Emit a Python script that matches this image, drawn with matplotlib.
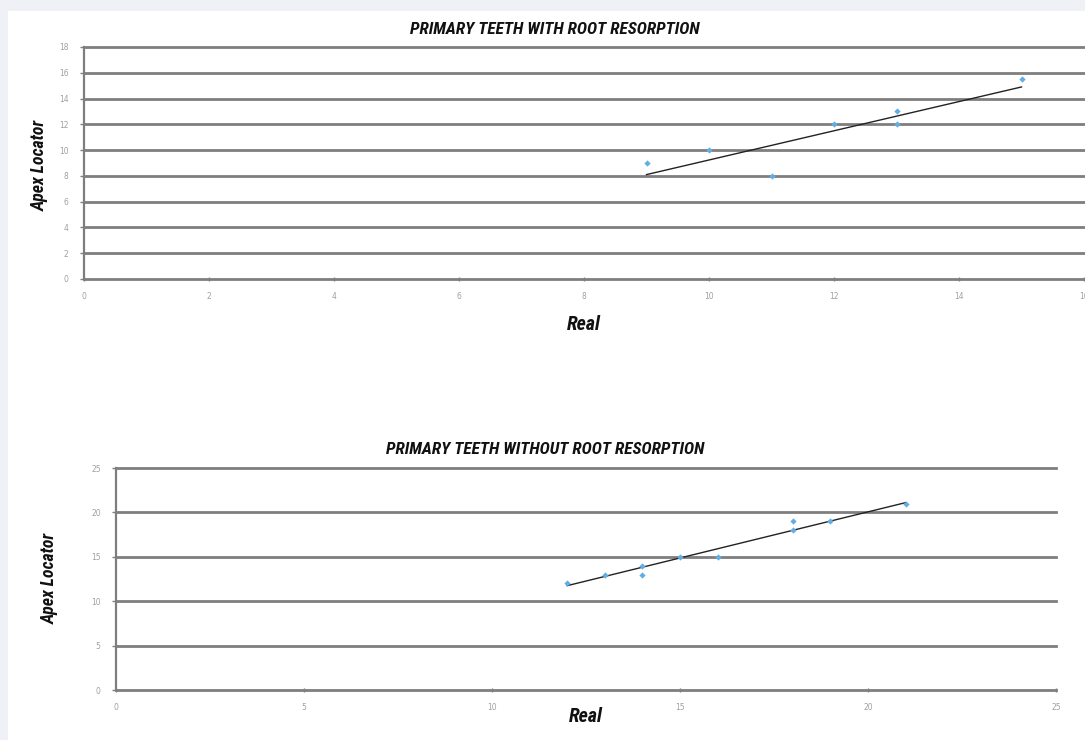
import matplotlib
matplotlib.use('Agg')
from matplotlib import pyplot as plt
from matplotlib import font_manager
from matplotlib.patches import Rectangle

# values
top_real = [9, 10, 11, 12, 13, 13, 15]
top_apex = [9, 10, 8, 12, 13, 12, 15.5]
top_trend_x = [9, 15]
top_trend_y = [8.1, 14.9]
top_yticks = [0, 2, 4, 6, 8, 10, 12, 14, 16, 18]
top_xticks = [0, 2, 4, 6, 8, 10, 12, 14, 16]

bot_real = [12, 13, 14, 14, 15, 16, 18, 18, 19, 21]
bot_apex = [12, 13, 14, 13, 15, 15, 18, 19, 19, 21]
bot_trend_x = [12, 21]
bot_trend_y = [11.75, 21.1]
bot_yticks = [0, 5, 10, 15, 20, 25]
bot_xticks = [0, 5, 10, 15, 20, 25]

W, H = 1085, 740

# pick a narrow font if one is there
installed = set(f.name for f in font_manager.fontManager.ttflist)
title_font = 'DejaVu Sans'
for name in ['Liberation Sans Narrow', 'DejaVu Sans Condensed', 'Roboto Condensed',
             'Open Sans Condensed', 'Roboto', 'Lato']:
    if name in installed:
        title_font = name
        break

fig = plt.figure(figsize=(W / 100, H / 100), dpi=100)
fig.patch.set_facecolor('#eff1f7')
fig.patches.append(Rectangle((8 / W, 0), 1, 1 - 11 / H, transform=fig.transFigure,
                             facecolor='white', edgecolor='none', zorder=-10))


def make_axes(rect, xs, ys, tx, ty, xticks, yticks):
    ax = fig.add_axes(rect)
    ax.set_facecolor('white')
    ax.set_xlim(xticks[0], xticks[-1])
    ax.set_ylim(yticks[0], yticks[-1])
    ax.set_xticks(xticks)
    ax.set_yticks(yticks)
    for y in yticks:
        ax.axhline(y, color='#7e7e7e', lw=2, zorder=1, clip_on=False)
    for s in ['top', 'right', 'bottom']:
        ax.spines[s].set_visible(False)
    ax.spines['left'].set_color('#7e7e7e')
    ax.spines['left'].set_linewidth(1.6)
    ax.tick_params(axis='both', colors='#7e7e7e', labelcolor='#a0a0a0',
                   labelsize=5.5, length=3, width=1)
    ax.tick_params(axis='x', direction='inout', pad=8)
    ax.tick_params(axis='y', direction='out', pad=8)
    ax.plot(tx, ty, color='#222222', lw=1, zorder=3)
    ax.plot(xs, ys, linestyle='none', marker='D', ms=3.2, color='#62aee2',
            markeredgewidth=0, zorder=4, clip_on=False)
    return ax


make_axes([84 / W, 1 - 279 / H, 1000 / W, 232 / H], top_real, top_apex,
          top_trend_x, top_trend_y, top_xticks, top_yticks)
make_axes([116 / W, 1 - 690 / H, 940 / W, 222 / H], bot_real, bot_apex,
          bot_trend_x, bot_trend_y, bot_xticks, bot_yticks)

renderer = fig.canvas.get_renderer()


def fit_text(x, y, s, span, rot=0, size=14):
    # put a text and shrink it until its long side is about `span` px
    t = fig.text(x / W, 1 - y / H, s, ha='center', va='center', rotation=rot,
                 fontsize=size, family=title_font, weight='bold', style='italic',
                 color='#111111')
    bb = t.get_window_extent(renderer)
    long_side = bb.height if rot else bb.width
    if long_side > span:
        t.set_fontsize(size * span / long_side)
    return t


fit_text(555, 30, 'PRIMARY TEETH WITH ROOT RESORPTION', 290)
fit_text(545, 450, 'PRIMARY TEETH WITHOUT ROOT RESORPTION', 320)
fit_text(584, 324, 'Real', 34, size=15)
fit_text(586, 716, 'Real', 34, size=15)
fit_text(40, 165, 'Apex Locator', 92, rot=90, size=15)
fit_text(50, 578, 'Apex Locator', 92, rot=90, size=15)

fig.savefig('out.png', dpi=100, facecolor=fig.get_facecolor())
